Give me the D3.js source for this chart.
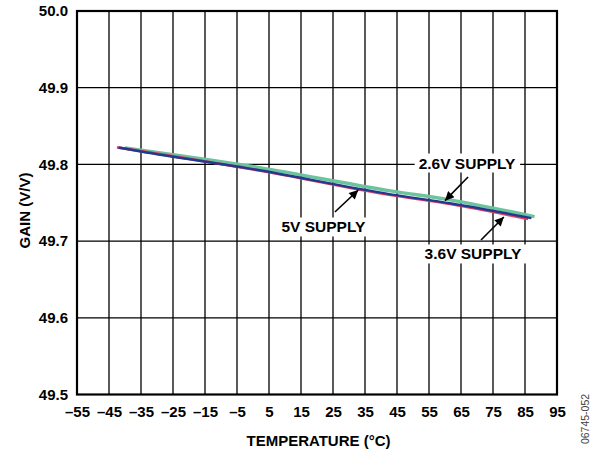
<!DOCTYPE html>
<html><head><meta charset="utf-8">
<script src="https://cdn.jsdelivr.net/npm/d3@7"></script>
<style>html,body{margin:0;padding:0;background:#fff;}svg{display:block;font-family:"Liberation Sans",Arial,sans-serif;font-weight:bold;}</style>
</head><body><svg id="c" width="590" height="453"></svg>
<script>
// ---- data ----
const xTicks = [-55,-45,-35,-25,-15,-5,5,15,25,35,45,55,65,75,85,95];
const yTicks = [49.5,49.6,49.7,49.8,49.9,50.0];
// 2.6V supply (green)
const temp26 = [-40, 2, 43, 62, 88];
const gain26 = [49.8215, 49.7958, 49.7655, 49.7535, 49.7318];
// 3.6V supply (red)
const temp36 = [-42.5, 2, 43, 62, 86];
const gain36 = [49.8222, 49.792, 49.760, 49.748, 49.7288];
// 5V supply (blue)
const temp5 = [-42, -35, -1, 43, 62, 87];
const gain5 = [49.822, 49.8168, 49.7945, 49.761, 49.749, 49.730];
// annotations: label, label pos, arrow tail, arrow tip (data coords)
const annLabels = ["2.6V SUPPLY","5V SUPPLY","3.6V SUPPLY"];
const annLabelPos = [[66.9,49.8018],[22.0,49.7184],[68.75,49.6832]];
const annTail = [[67.2,49.7836],[25.6,49.7379],[71.25,49.7014]];
const annTip = [[60.0,49.7527],[32.9,49.7666],[78.4,49.7314]];

const svg = d3.select("#c");
const x = d3.scaleLinear().domain([-55,95]).range([77,557]);
const y = d3.scaleLinear().domain([49.5,50.0]).range([394.5,11]);

// gridlines
const grid = svg.append("g").attr("stroke","#000").attr("stroke-width",1.3);
grid.selectAll("line.v").data(xTicks.slice(1,-1)).join("line")
  .attr("x1",d=>x(d)).attr("x2",d=>x(d)).attr("y1",y(50)).attr("y2",y(49.5));
grid.selectAll("line.h").data(yTicks.slice(1,-1)).join("line").attr("class","h")
  .attr("y1",d=>y(d)).attr("y2",d=>y(d)).attr("x1",x(-55)).attr("x2",x(95));

// axes tick labels
const xAxis = d3.axisBottom(x).tickValues(xTicks).tickSize(0).tickPadding(12)
  .tickFormat(d=>d<0?"\u2013"+Math.abs(d):String(d));
const gx = svg.append("g").attr("transform",`translate(0,${y(49.5)})`).call(xAxis);
gx.select(".domain").remove();
gx.selectAll("text").attr("font-size",15).attr("font-family","Liberation Sans, Arial, sans-serif").attr("font-weight","bold").attr("fill","#000");
const yAxis = d3.axisLeft(y).tickValues(yTicks).tickSize(0).tickPadding(9).tickFormat(d3.format(".1f"));
const gy = svg.append("g").attr("transform",`translate(${x(-55)},0)`).call(yAxis);
gy.select(".domain").remove();
gy.selectAll("text").attr("font-size",15).attr("font-family","Liberation Sans, Arial, sans-serif").attr("font-weight","bold").attr("fill","#000");

// frame
svg.append("rect").attr("x",x(-55)).attr("y",y(50)).attr("width",x(95)-x(-55)).attr("height",y(49.5)-y(50))
  .attr("fill","none").attr("stroke","#000").attr("stroke-width",2.2);

// annotation label backgrounds + text
const ann = svg.append("g");
annLabels.forEach((t,i)=>{
  const g = ann.append("g");
  const tx = g.append("text").attr("x",x(annLabelPos[i][0])).attr("y",y(annLabelPos[i][1]))
    .attr("text-anchor","middle").attr("dominant-baseline","central").attr("font-size",15.5).text(t);
  const b = tx.node().getBBox();
  g.insert("rect","text").attr("x",b.x-4).attr("y",b.y-1).attr("width",b.width+8).attr("height",b.height+2).attr("fill","#fff");
});

// series lines
const line = d3.line().x(d=>x(d[0])).y(d=>y(d[1])).curve(d3.curveMonotoneX);
const series = [
  {t:temp26,g:gain26,color:"#6cc49c",w:3.4},
  {t:temp36,g:gain36,color:"#e8405c",w:2.6},
  {t:temp5,g:gain5,color:"#22398f",w:2.4}
];
series.forEach(s=>{
  svg.append("path").datum(s.t.map((t,i)=>[t,s.g[i]])).attr("d",line)
    .attr("fill","none").attr("stroke",s.color).attr("stroke-width",s.w);
});

// arrows
svg.append("defs").append("marker").attr("id","ah").attr("viewBox","0 0 10 10").attr("refX",10).attr("refY",5)
  .attr("markerWidth",12).attr("markerHeight",9).attr("markerUnits","userSpaceOnUse").attr("orient","auto")
  .append("path").attr("d","M0,0L10,5L0,10Z").attr("fill","#000");
annTail.forEach((p,i)=>{
  svg.append("line").attr("x1",x(p[0])).attr("y1",y(p[1])).attr("x2",x(annTip[i][0])).attr("y2",y(annTip[i][1]))
    .attr("stroke","#000").attr("stroke-width",1.6).attr("marker-end","url(#ah)");
});

// axis titles
svg.append("text").attr("x",318.5).attr("y",446).attr("text-anchor","middle").attr("font-size",15).text("TEMPERATURE (°C)");
svg.append("text").attr("transform","translate(30,210.5) rotate(-90)").attr("text-anchor","middle").attr("font-size",15).text("GAIN (V/V)");
// figure id
svg.append("text").attr("transform","translate(585,419) rotate(-90)").attr("text-anchor","middle")
  .attr("dominant-baseline","central").attr("font-size",10.5)
  .attr("font-weight","normal").attr("fill","#444").text("06745-052");
</script></body></html>
